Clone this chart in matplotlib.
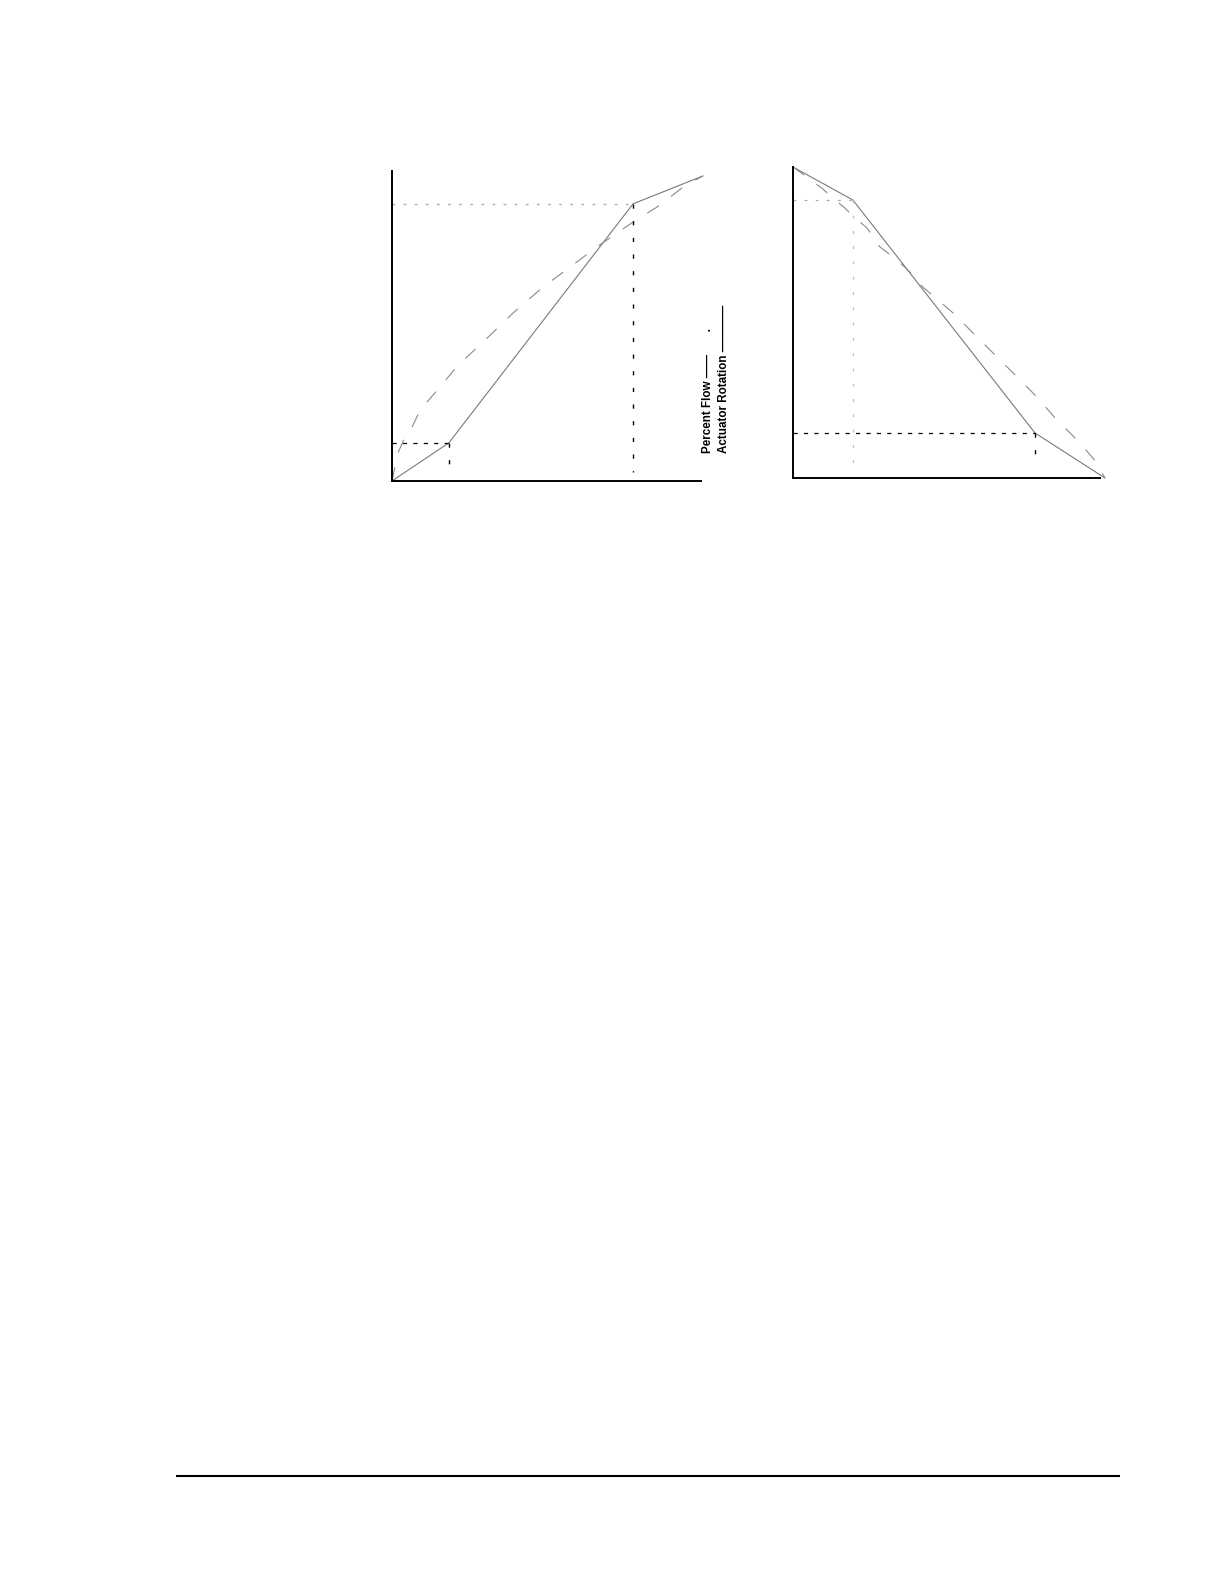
import matplotlib
matplotlib.use("Agg")
import matplotlib.pyplot as plt
from matplotlib.lines import Line2D

plt.rcParams['lines.scale_dashes'] = False

W, H = 1224, 1584

# left chart: percent flow / actuator rotation, increasing
left_rotation_x = [0, 18.4, 78.0, 100.6]
left_rotation_y = [0, 12.3, 89.4, 98.4]
left_flow_x = [0, 1.9, 4.2, 6.5, 9.1, 15.5, 21.4, 28.5, 39.2, 48.9, 57.6, 66.3,
               72.8, 78.0, 85.8, 94.2, 100.6]
left_flow_y = [0, 9.0, 14.2, 17.4, 22.9, 30.3, 37.4, 43.9, 54.2, 62.6, 69.0, 75.5,
               80.0, 83.5, 88.4, 94.8, 98.4]

# right chart: decreasing
right_rotation_x = [0, 19.5, 78.8, 101.6]
right_rotation_y = [100, 89.4, 14.5, 0]
right_flow_x = [0, 4.9, 9.4, 13.0, 16.9, 19.5, 24.1, 28.3, 33.9, 38.1, 42.3, 52.1,
                61.9, 73.0, 79.5, 86.0, 93.5, 99.0, 101.6]
right_flow_y = [100, 96.5, 93.2, 90.0, 86.8, 84.2, 80.4, 74.3, 70.1, 66.2, 61.4, 53.1,
                43.4, 32.5, 26.0, 18.6, 11.3, 4.8, 0]

legend_labels = ["Percent Flow \u2014\u2014       .", "Actuator Rotation \u2014\u2014\u2014\u2014"]

fig = plt.figure(figsize=(W / 100, H / 100), dpi=100)


def make_axes(x0, x1, ytop, ybot):
    ax = fig.add_axes([x0 / W, 1 - ybot / H, (x1 - x0) / W, (ybot - ytop) / H])
    ax.set_xlim(0, 100)
    ax.set_ylim(0, 100)
    ax.spines['top'].set_visible(False)
    ax.spines['right'].set_visible(False)
    for s in ('left', 'bottom'):
        ax.spines[s].set_linewidth(1.4)
        ax.spines[s].set_color('black')
    ax.set_xticks([])
    ax.set_yticks([])
    ax.patch.set_alpha(0)
    return ax


def curves(ax, rx, ry, fx, fy):
    ax.plot(rx, ry, color='#7a7a7a', lw=0.8, clip_on=False)
    ax.plot(fx, fy, color='#8a8a8a', lw=0.8, dashes=(10, 11), clip_on=False)


gray_dot = dict(color='#aaaaaa', lw=0.9, dashes=(2, 6))
black_h = dict(color='black', lw=0.9, dashes=(3, 4.5))
black_v = dict(color='black', lw=1.0, dashes=(3, 9))

# left
ax1 = make_axes(392, 701, 171, 481)
curves(ax1, left_rotation_x, left_rotation_y, left_flow_x, left_flow_y)
k1x, k1y = left_rotation_x[1], left_rotation_y[1]
k2x, k2y = left_rotation_x[2], left_rotation_y[2]
ax1.plot([0, k1x], [k1y, k1y], **black_h)
ax1.plot([k1x, k1x], [k1y, 3], **black_v)
ax1.plot([0, k2x], [k2y, k2y], **gray_dot)
ax1.plot([k2x, k2x], [k2y, 3], **black_v)

# right
ax2 = make_axes(793, 1100, 167, 478)
curves(ax2, right_rotation_x, right_rotation_y, right_flow_x, right_flow_y)
r1x, r1y = right_rotation_x[1], right_rotation_y[1]
r2x, r2y = right_rotation_x[2], right_rotation_y[2]
ax2.plot([0, r1x], [r1y, r1y], **gray_dot)
ax2.plot([r1x, r1x], [r1y, 4], color='#bbbbbb', lw=0.9, dashes=(2, 9))
ax2.plot([0, r2x], [r2y, r2y], **black_h)
ax2.plot([r2x, r2x], [r2y, 4], **black_v)

# rotated legend text
for i, lab in enumerate(legend_labels):
    fig.text((708 + 16 * i) / W, 1 - 453 / H, lab, rotation=90, ha='center',
             va='bottom', fontsize=8.4, fontweight='bold',
             family='Liberation Sans', color='black')

# page footer rule
fig.add_artist(Line2D([177 / W, 1119 / W], [1 - 1476 / H, 1 - 1476 / H],
                      color='black', lw=1.5))

fig.savefig("out.png", dpi=100)
